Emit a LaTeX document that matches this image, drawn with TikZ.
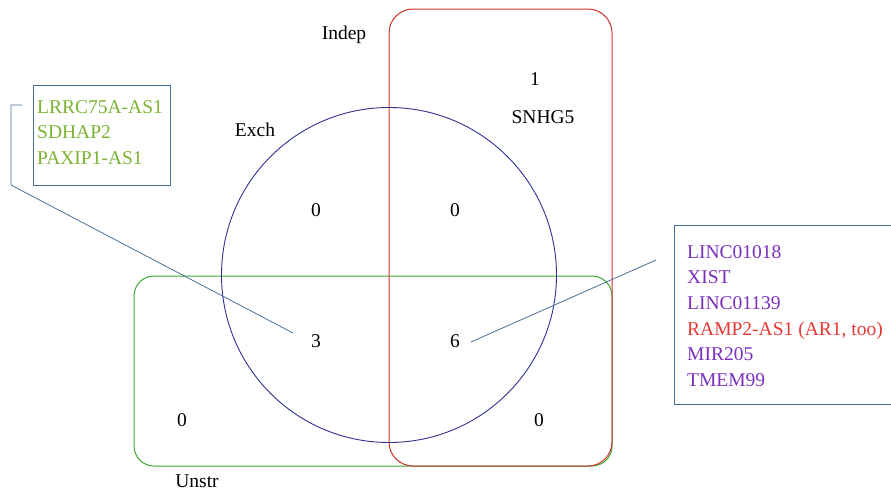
\documentclass[tikz,border=0pt]{standalone}
\usepackage{fontspec}
\setmainfont{Liberation Serif}
\definecolor{exchblue}{RGB}{46,49,146}
\definecolor{indred}{RGB}{208,49,45}
\definecolor{unsgreen}{RGB}{58,170,53}
\definecolor{boxblue}{RGB}{74,111,150}
\definecolor{genegreen}{RGB}{124,179,50}
\definecolor{genepurple}{RGB}{123,47,190}
\definecolor{genered}{RGB}{229,57,53}
\begin{document}
\begin{tikzpicture}[x=1pt,y=-1pt,
  every node/.style={font=\fontsize{19.5}{25.7}\selectfont,inner sep=1pt},
  genes/.style={align=left,anchor=north west},
  link/.style={draw=boxblue,line width=0.8pt}]
  \useasboundingbox (0,0) rectangle (891,490);
  % sets
  \draw[unsgreen,line width=1pt,rounded corners=20pt] (134,276) rectangle (612,466);
  \draw[indred,line width=1pt,rounded corners=24pt] (389,9) rectangle (612,466);
  \draw[exchblue,line width=0.9pt] (389,275) circle (167.5);
  % set names
  \node (indep) at (344,35) {Indep};
  \node (exch) at (255,130) {Exch};
  \node (unstr) at (197,481) {Unstr};
  % counts
  \node (n1) at (535,79) {1};
  \node (snhg) at (543,117) {SNHG5};
  \node (n0a) at (316,210) {0};
  \node (n0b) at (455,210) {0};
  \node (n3) at (316,341) {3};
  \node (n6) at (455,341) {6};
  \node (n0c) at (182,420) {0};
  \node (n0d) at (539,420) {0};
  % gene lists
  \draw[boxblue,line width=0.8pt] (33,85) rectangle (170,185);
  \node[genes,text=genegreen] (lgenes) at (36,99) {LRRC75A-AS1\\SDHAP2\\PAXIP1-AS1};
  \draw[boxblue,line width=0.8pt] (674,225) rectangle (900,404);
  \node[genes] (rgenes) at (686,244) {\textcolor{genepurple}{LINC01018}\\
    \textcolor{genepurple}{XIST}\\
    \textcolor{genepurple}{LINC01139}\\
    \textcolor{genered}{RAMP2-AS1 (AR1, too)}\\
    \textcolor{genepurple}{MIR205}\\
    \textcolor{genepurple}{TMEM99}};
  % connectors
  \coordinate (lstart) at (22,105);
  \coordinate (lend) at (293,333);
  \coordinate (rstart) at (656,260);
  \coordinate (rend) at (471,342);
  \draw[link] (lstart) -- (11,105) -- (11,185) -- (lend);
  \draw[link] (rstart) -- (rend);
\end{tikzpicture}
\end{document}
